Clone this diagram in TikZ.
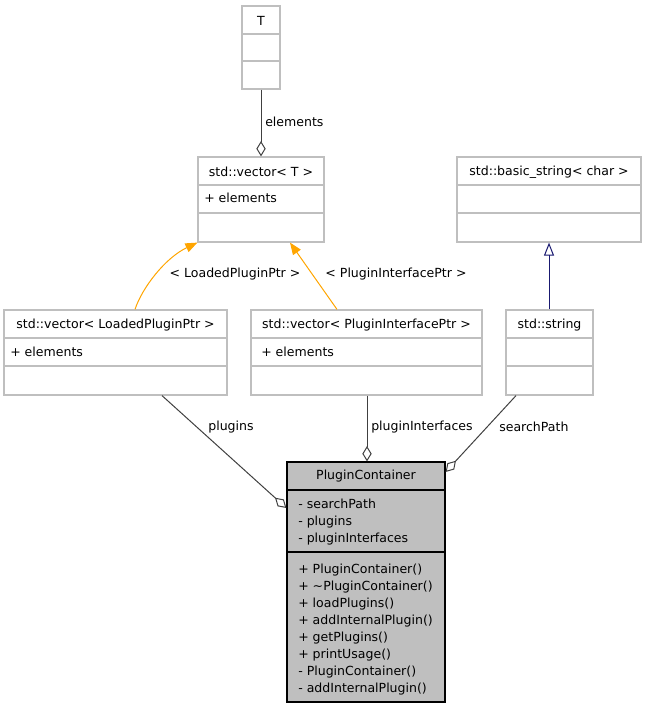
\documentclass[tikz,border=0pt]{standalone}
\usepackage{fontspec}
\setmainfont{DejaVu Sans}
\usetikzlibrary{arrows.meta,calc,fit}
\definecolor{boxgray}{RGB}{191,191,191}
\definecolor{edgegray}{RGB}{64,64,64}
\definecolor{inhorange}{RGB}{255,165,0}
\definecolor{inhnavy}{RGB}{25,25,112}
\definecolor{pcfill}{RGB}{191,191,191}
\newcommand\umlclassbox[8]{%
  \coordinate (#1-a) at (#2,#3);
  \coordinate (#1-b) at (#4,#5);
  \node[#8, fit=(#1-a)(#1-b)] (#1) {};
  \draw[sepline] (#1.west |- 0,#6) -- (#1.east |- 0,#6);
  \draw[sepline] (#1.west |- 0,#7) -- (#1.east |- 0,#7);
}
\begin{document}
\begin{tikzpicture}[x=0.75pt,y=-0.75pt,
  font=\fontsize{9.4}{12.75}\selectfont,
  cls/.style={draw=boxgray, line width=0.9pt, fill=white, inner sep=0pt},
  mcls/.style={draw=black, line width=0.9pt, fill=pcfill, inner sep=0pt},
  sepline/.style={draw=boxgray, line width=0.9pt},
  txt/.style={inner sep=0pt, anchor=base west},
  ttl/.style={inner sep=0pt},
  agg/.style={draw=edgegray, line width=0.75pt, -{Diamond[open,length=11.5pt,width=7pt]}},
  tmpl/.style={draw=inhorange, line width=0.75pt, -{Triangle[length=9pt,width=7pt]}, inhorange},
  inh/.style={draw=inhnavy, line width=0.75pt, -{Triangle[open,length=9.75pt,width=7.5pt]}},
  lbl/.style={inner sep=0pt}]
\useasboundingbox (0,0) rectangle (647,709);

% T
\umlclassbox{T}{242}{6}{280}{89}{34}{61}{cls}
\node[ttl] (Tt) at (261,21) {T};

% std::vector< T >
\umlclassbox{vT}{198}{157}{324}{242}{185}{213}{cls}
\node[ttl] (vTt) at (261,172) {std::vector< T >};
\node[txt] (vTa) at (204,203) {+ elements};

% std::basic_string< char >
\umlclassbox{bs}{457}{157}{641}{242}{185}{213}{cls}
\node[ttl] (bst) at (549,172) {std::basic\_string< char >};

% std::vector< LoadedPluginPtr >
\umlclassbox{vLP}{4}{310}{227}{395}{338}{366}{cls}
\node[ttl] (vLPt) at (115.5,325) {std::vector< LoadedPluginPtr >};
\node[txt] (vLPa) at (10,356) {+ elements};

% std::vector< PluginInterfacePtr >
\umlclassbox{vPI}{251}{310}{482}{395}{338}{366}{cls}
\node[ttl] (vPIt) at (366.5,325) {std::vector< PluginInterfacePtr >};
\node[txt] (vPIa) at (261,356) {+ elements};

% std::string
\umlclassbox{ss}{506}{310}{593}{395}{338}{366}{cls}
\node[ttl] (sst) at (549.5,325) {std::string};

% PluginContainer
\umlclassbox{PC}{287}{462}{445}{702}{490}{552}{mcls}
\draw[draw=black, line width=0.9pt] (PC.west |- 0,490) -- (PC.east |- 0,490);
\draw[draw=black, line width=0.9pt] (PC.west |- 0,552) -- (PC.east |- 0,552);
\node[ttl] (PCt) at (366,476) {PluginContainer};
\node[txt] (PCa1) at (298,508) {- searchPath};
\node[txt] (PCa2) at (298,525) {- plugins};
\node[txt] (PCa3) at (298,542) {- pluginInterfaces};
\node[txt] (PCm1) at (298,573) {+ PluginContainer()};
\node[txt] (PCm2) at (298,590) {+ \textasciitilde PluginContainer()};
\node[txt] (PCm3) at (298,607) {+ loadPlugins()};
\node[txt] (PCm4) at (298,624) {+ addInternalPlugin()};
\node[txt] (PCm5) at (298,641) {+ getPlugins()};
\node[txt] (PCm6) at (298,658) {+ printUsage()};
\node[txt] (PCm7) at (298,675) {- PluginContainer()};
\node[txt] (PCm8) at (298,692) {- addInternalPlugin()};

% edges
\draw[agg] (T.south) -- (vT.north);
\node[lbl, anchor=west] (l1) at (265,122) {elements};

\draw[tmpl] (vLP.north -| 135,0) .. controls (142,288) and (165,258) .. (vT.south west);
\node[lbl] (l2) at (235,274) {< LoadedPluginPtr >};

\draw[tmpl] (vPI.north -| 337,0) -- (vT.south -| 290,0);
\node[lbl] (l3) at (396,274) {< PluginInterfacePtr >};

\draw[inh] (ss.north -| 549,0) -- (bs.south -| 549,0);

\draw[agg] (vLP.south -| 162,0) -- (PC.west |- 0,508);
\node[lbl] (l4) at (231,427) {plugins};

\draw[agg] (vPI.south -| 367,0) -- (PC.north -| 367,0);
\node[lbl, anchor=west] (l5) at (371,427) {pluginInterfaces};

\draw[agg] (ss.south -| 516,0) -- (PC.east |- 0,472);
\node[lbl, anchor=west] (l6) at (499,427) {searchPath};
\end{tikzpicture}
\end{document}
